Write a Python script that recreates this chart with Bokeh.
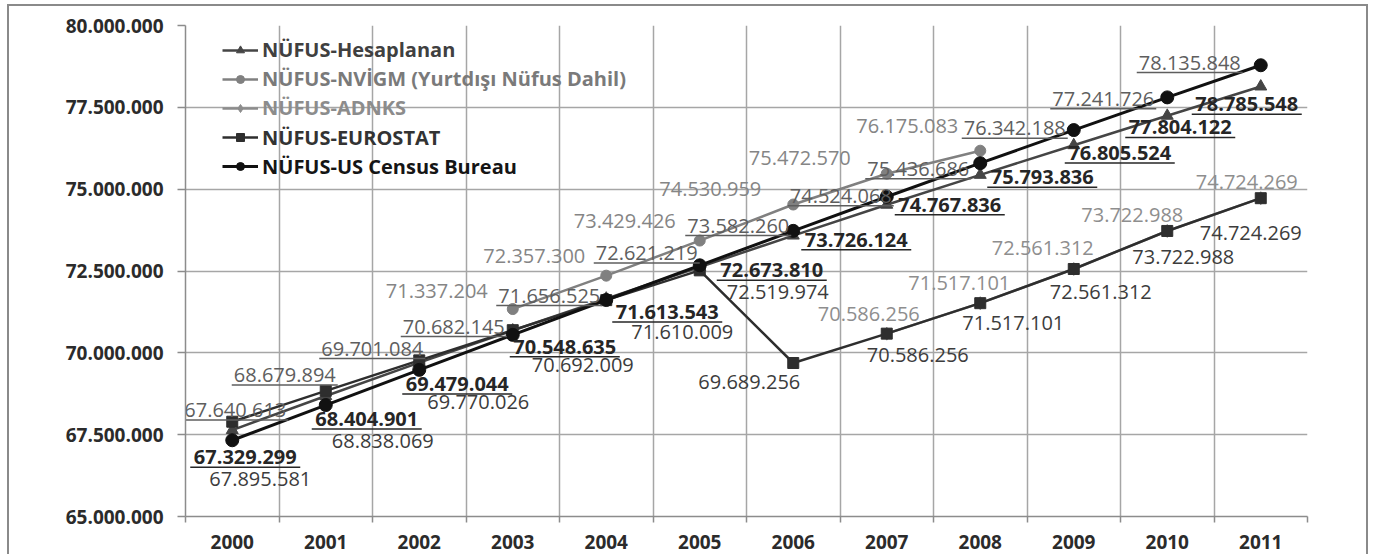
from bokeh.plotting import figure
from bokeh.models import FixedTicker, Legend, LegendItem, Range1d, InlineStyleSheet
from bokeh.core.properties import value
from bokeh.embed import file_html
from bokeh.resources import INLINE

# ---------------- data ----------------
years = [2000, 2001, 2002, 2003, 2004, 2005, 2006, 2007, 2008, 2009, 2010, 2011]
year_labels = [str(y) for y in years]

hesaplanan = [67640613, 68679894, 69701084, 70682145, 71656525, 72621219,
              73582260, 74524068, 75436686, 76342188, 77241726, 78135848]

nvigm_years = [2003, 2004, 2005, 2006, 2007, 2008]
nvigm = [71337204, 72357300, 73429426, 74530959, 75472570, 76175083]

adnks_years = [2007, 2008, 2009, 2010, 2011]
adnks = [70586256, 71517101, 72561312, 73722988, 74724269]

eurostat = [67895581, 68838069, 69770026, 70692009, 71610009, 72519974,
            69689256, 70586256, 71517101, 72561312, 73722988, 74724269]

us_census = [67329299, 68404901, 69479044, 70548635, 71613543, 72673810,
             73726124, 74767836, 75793836, 76805524, 77804122, 78785548]

y_ticks = [65000000, 67500000, 70000000, 72500000, 75000000, 77500000, 80000000]

series_names = ["NÜFUS-Hesaplanan", "NÜFUS-NVİGM (Yurtdışı Nüfus Dahil)",
                "NÜFUS-ADNKS", "NÜFUS-EUROSTAT", "NÜFUS-US Census Bureau"]

# ---------------- label placement (screen px offsets: right, down) ----------------
hes_off = [(3, -20), (-41, -21), (-47, -14), (-59, -4), (-57, -3), (-53, -14),
           (-55, -10), (-46, -9), (-62, -6), (-59, -17), (-64, -17), (-71, -24)]
us_off = [(13, 17), (41, 14), (38, 14), (52, 12), (61, 12), (72, 5),
          (63, 9), (63, 8), (62, 14), (46, 23), (13, 30), (-14, 39)]
nv_off = [(-76, -18), (-72, -20), (-75, -20), (-83, -16), (-87, -16), (-73, -25)]
eu_off = [(28, 57), (57, 50), (59, 42), (70, 35), (76, 32), (78, 22),
          (-44, 19), (31, 21), (33, 20), (27, 23), (16, 26), (-10, 35)]
ad_off = [(-18, -20), (-21, -20), (-31, -21), (-35, -16), (-14, -16)]

# ---------------- figure ----------------
W, H = 1375, 554
BL, BR, BT, BB = 185, 68, 25, 38
FRAME_W = W - BL - BR
FRAME_H = H - BT - BB
X0, X1 = years[0] - 0.5, years[-1] + 0.5
Y0, Y1 = y_ticks[0], y_ticks[-1]
PX_X = FRAME_W / (X1 - X0)
PX_Y = FRAME_H / (Y1 - Y0)

FONT = "Open Sans"

p = figure(width=W, height=H, output_backend="svg", toolbar_location=None,
           x_range=Range1d(X0, X1), y_range=Range1d(Y0, Y1),
           min_border_left=BL, min_border_right=BR, min_border_top=BT, min_border_bottom=BB)
p.stylesheets = [InlineStyleSheet(css=(
    ":host { position: relative; }"
    ":host::after { content: ''; position: absolute; left: 7px; top: 4px; right: 7px; bottom: 0px;"
    " border: 2px solid #8a8a8a; border-bottom: none; box-sizing: border-box;"
    " pointer-events: none; z-index: 10; }"))]
p.outline_line_color = None
p.background_fill_color = "white"
p.border_fill_color = "white"

boundaries = [y - 0.5 for y in years] + [years[-1] + 0.5]

# x axis
p.xaxis.ticker = FixedTicker(ticks=years, minor_ticks=boundaries)
p.xaxis.major_label_overrides = {y: l for y, l in zip(years, year_labels)}
p.xaxis.major_tick_line_color = None
p.xaxis.major_tick_out = 0
p.xaxis.minor_tick_out = 6
p.xaxis.minor_tick_in = 0
p.xaxis.minor_tick_line_color = "#8c8c8c"
p.xaxis.minor_tick_line_width = 1.5
p.xaxis.major_label_standoff = 12

# y axis
p.yaxis.ticker = FixedTicker(ticks=y_ticks)
p.yaxis.major_label_overrides = {t: f"{t:,}".replace(",", ".") for t in y_ticks}
p.yaxis.major_tick_out = 8
p.yaxis.major_tick_in = 0
p.yaxis.minor_tick_line_color = None
p.yaxis.major_tick_line_color = "#8c8c8c"
p.yaxis.major_tick_line_width = 1.5
p.yaxis.major_label_standoff = 14

for ax in (p.xaxis, p.yaxis):
    ax.axis_line_color = "#8c8c8c"
    ax.axis_line_width = 1.5
    ax.major_label_text_font = FONT
    ax.major_label_text_font_size = "19px"
    ax.major_label_text_font_style = "bold"
    ax.major_label_text_color = "#2b2b2b"

p.xgrid.ticker = FixedTicker(ticks=boundaries)
p.ygrid.ticker = FixedTicker(ticks=y_ticks)
for g in (p.xgrid, p.ygrid):
    g.grid_line_color = "#a6a6a6"
    g.grid_line_width = 1.5

# ---------------- series ----------------
def series(xs, ys, color, marker, size, lw):
    ln = p.line(xs, ys, line_color=color, line_width=lw)
    sc = p.scatter(xs, ys, marker=marker, size=size, fill_color=color, line_color=color)
    return [ln, sc]

r_hes = series(years, hesaplanan, "#454545", "triangle", 12, 2.5)
r_nv = series(nvigm_years, nvigm, "#808080", "circle", 11, 2.5)
r_ad = series(adnks_years, adnks, "#8c8c8c", "diamond", 13, 2.5)
r_eu = series(years, eurostat, "#2e2e2e", "square", 11, 2.5)
r_us = series(years, us_census, "#111111", "circle", 13, 3)

# ---------------- data labels ----------------
def fmt(v):
    return f"{v:,}".replace(",", ".")

def labels(xs, ys, offs, color, bold=False, underline=False, half_w=53):
    tx = [x + dx / PX_X for x, (dx, dy) in zip(xs, offs)]
    ty = [y - dy / PX_Y for y, (dx, dy) in zip(ys, offs)]
    p.text(tx, ty, text=[fmt(v) for v in ys], text_font=value(FONT),
           text_font_size="20px", text_font_style="bold" if bold else "normal",
           text_color=color, text_align="center", text_baseline="middle")
    if underline:
        uy = [y - 10 / PX_Y for y in ty]
        p.segment([x - half_w / PX_X for x in tx], uy, [x + half_w / PX_X for x in tx], uy,
                  line_color=color, line_width=1.5)

labels(years, hesaplanan, hes_off, "#5e5e5e", underline=True)
labels(nvigm_years, nvigm, nv_off, "#858585")
labels(adnks_years, adnks, ad_off, "#8e8e8e")
labels(years, eurostat, eu_off, "#3c3c3c")
labels(years, us_census, us_off, "#262626", bold=True, underline=True, half_w=55)

# ---------------- legend ----------------
leg_colors = ["#404040", "#7a7a7a", "#8c8c8c", "#333333", "#151515"]
renderer_sets = [r_hes, r_nv, r_ad, r_eu, r_us]
for i, (name, rs, col) in enumerate(zip(series_names, renderer_sets, leg_colors)):
    lg = Legend(items=[LegendItem(label=name, renderers=rs)],
                location=(37, FRAME_H - 38 - 29.2 * i),
                orientation="vertical", glyph_width=36, glyph_height=20,
                label_height=20, label_standoff=4, padding=0, margin=0, spacing=0,
                background_fill_alpha=0, border_line_color=None,
                label_text_font=FONT, label_text_font_size="20px",
                label_text_font_style="bold", label_text_color=col,
                label_text_baseline="middle")
    p.add_layout(lg, "center")

open("out.html", "w").write(file_html(p, INLINE))
